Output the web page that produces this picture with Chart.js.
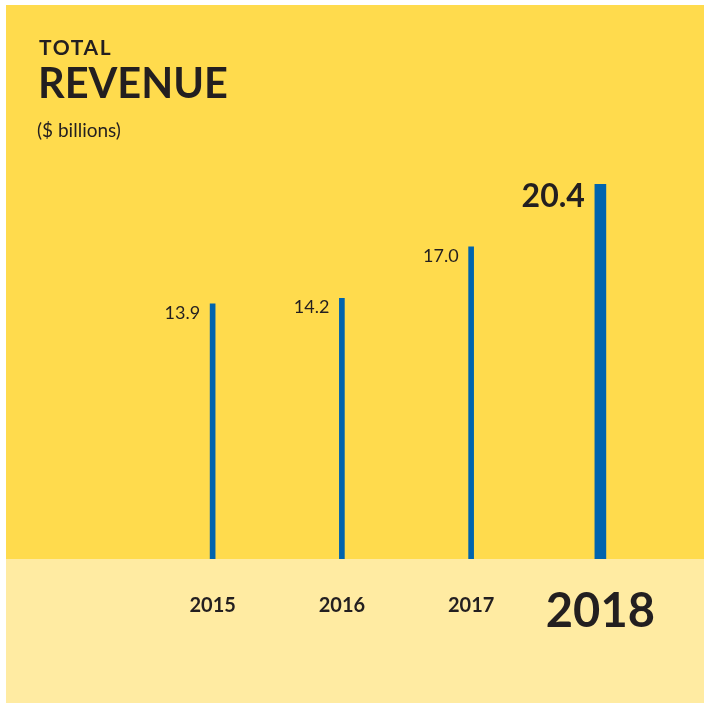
<!DOCTYPE html>
<html>
<head>
<meta charset="utf-8">
<script src="https://cdn.jsdelivr.net/npm/chart.js@4.4.0/dist/chart.umd.min.js"></script>
<style>
html,body{margin:0;padding:0;background:#ffffff;}
#wrap{position:relative;width:704px;height:704px;overflow:hidden;}
#c{position:absolute;left:0;top:0;}
.t{position:absolute;color:#231F20;font-family:Lato,"Noto Sans",sans-serif;white-space:nowrap;line-height:1;}
#t1{left:39px;top:36px;font-size:21px;font-weight:700;letter-spacing:1.6px;}
#t2{left:38px;top:62px;font-size:41.5px;font-weight:700;letter-spacing:0px;}
#t3{left:37px;top:120px;font-size:19px;font-weight:400;}
</style>
</head>
<body>
<div id="wrap">
  <canvas id="c" width="704" height="704"></canvas>
  <div class="t" id="t1">TOTAL</div>
  <div class="t" id="t2">REVENUE</div>
  <div class="t" id="t3">($ billions)</div>
</div>
<script>
// ---- data ----
const years = ['2015', '2016', '2017', '2018'];
const revenue = [13.9, 14.2, 17.0, 20.4];
const valueLabels = ['13.9', '14.2', '17.0', '20.4'];
const highlightIndex = 3;

// ---- styles ----
const BLUE = '#0064AE';
const YELLOW = '#FFDB4D';
const LIGHT = '#FFEBA2';
const INK = '#231F20';
const NUM_FONT = 'Lato, "Noto Sans", sans-serif';

const regularData = revenue.map((v, i) => i === highlightIndex ? null : v);
const highlightData = revenue.map((v, i) => i === highlightIndex ? v : null);

const backgroundPlugin = {
  id: 'panelBg',
  beforeDraw(chart) {
    const ctx = chart.ctx;
    const bottom = chart.chartArea.bottom;
    ctx.save();
    ctx.fillStyle = YELLOW;
    ctx.fillRect(6, 5, 698, bottom - 5);
    ctx.fillStyle = LIGHT;
    ctx.fillRect(6, bottom, 698, 703 - bottom);
    ctx.restore();
  }
};

const valueLabelPlugin = {
  id: 'valueLabels',
  afterDatasetsDraw(chart) {
    const ctx = chart.ctx;
    ctx.save();
    ctx.fillStyle = INK;
    ctx.textAlign = 'right';
    ctx.textBaseline = 'alphabetic';
    chart.data.datasets.forEach((ds, di) => {
      const meta = chart.getDatasetMeta(di);
      meta.data.forEach((el, i) => {
        if (ds.data[i] === null || ds.data[i] === undefined) return;
        const big = i === highlightIndex;
        const x = el.x - el.width / 2 - 10;
        ctx.font = (big ? 'bold 32px ' : '18px ') + NUM_FONT;
        ctx.fillText(valueLabels[i], x, el.y + (big ? 23 : 15));
      });
    });
    ctx.restore();
  }
};

new Chart(document.getElementById('c'), {
  type: 'bar',
  data: {
    labels: years,
    datasets: [
      { data: regularData, backgroundColor: BLUE, borderWidth: 0, barThickness: 5, grouped: false },
      { data: highlightData, backgroundColor: BLUE, borderWidth: 0, barThickness: 11, grouped: false }
    ]
  },
  options: {
    responsive: false,
    animation: false,
    devicePixelRatio: 1,
    layout: { padding: { left: 148, right: 39, top: 155, bottom: 40 } },
    plugins: { legend: { display: false }, tooltip: { enabled: false }, title: { display: false } },
    scales: {
      x: {
        type: 'category',
        offset: true,
        grid: { display: false, drawTicks: false },
        border: { display: false },
        ticks: {
          padding: 20,
          color: INK,
          maxRotation: 0,
          autoSkip: false,
          font: (ctx) => ctx.index === highlightIndex
            ? { family: NUM_FONT, size: 47, weight: 'bold', lineHeight: 65 / 47 }
            : { family: NUM_FONT, size: 20, weight: 'bold', lineHeight: 54 / 20 }
        }
      },
      y: { display: false, min: 0, max: 22 }
    }
  },
  plugins: [backgroundPlugin, valueLabelPlugin]
});
</script>
</body>
</html>
